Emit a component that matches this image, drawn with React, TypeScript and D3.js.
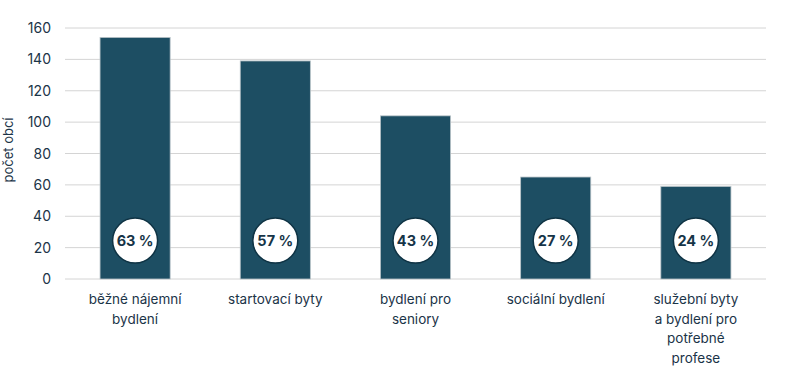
import React from "react";
import * as d3 from "d3";

const categories: string[][] = [
  ["běžné nájemní", "bydlení"],
  ["startovací byty"],
  ["bydlení pro", "seniory"],
  ["sociální bydlení"],
  ["služební byty", "a bydlení pro", "potřebné", "profese"],
];
const values = [154, 139, 104, 65, 59];
const shares = ["63 %", "57 %", "43 %", "27 %", "24 %"];
const yTicks = [0, 20, 40, 60, 80, 100, 120, 140, 160];
const yTitle = "počet obcí";

const W = 789;
const H = 367;
const margin = { left: 65, right: 23, top: 28, bottom: 88 };
const barColor = "#1d4e63";
const textColor = "#1b3448";
const font = "Inter, 'Open Sans', sans-serif";

export default function App() {
  const x = d3
    .scaleBand<number>()
    .domain(values.map((_, i) => i))
    .range([margin.left, W - margin.right])
    .paddingInner(0.5)
    .paddingOuter(0.25);
  const y = d3
    .scaleLinear()
    .domain([0, 160])
    .range([H - margin.bottom, margin.top]);

  return (
    <svg
      width={W}
      height={H}
      style={{ position: "absolute", left: 0, top: 0, background: "#fff" }}
      fontFamily={font}
    >
      {yTicks.map((t) => (
        <g key={t}>
          <line
            x1={margin.left}
            x2={W - margin.right}
            y1={y(t)}
            y2={y(t)}
            stroke="#d4d4d4"
            strokeWidth={1}
          />
          <text
            x={51}
            y={y(t)}
            dy="0.36em"
            textAnchor="end"
            fontSize={14}
            fill={textColor}
          >
            {t}
          </text>
        </g>
      ))}
      <text
        transform={`translate(13,150) rotate(-90)`}
        textAnchor="middle"
        fontSize={13}
        fill={textColor}
      >
        {yTitle}
      </text>
      {values.map((v, i) => {
        const bx = x(i)!;
        const bw = x.bandwidth();
        const cx = bx + bw / 2;
        return (
          <g key={i}>
            <rect
              x={bx}
              y={y(v)}
              width={bw}
              height={y(0) - y(v)}
              fill={barColor}
              stroke="#b9c3c8"
              strokeWidth={0.8}
            />
            <circle
              cx={cx}
              cy={y(24.5)}
              r={22.5}
              fill="#fff"
              stroke="#0f3344"
              strokeWidth={1.5}
            />
            <text
              x={cx}
              y={y(24.5)}
              dy="0.36em"
              textAnchor="middle"
              fontSize={14.5}
              fontWeight={700}
              fill="#163447"
            >
              {shares[i]}
            </text>
            {categories[i].map((line, j) => (
              <text
                key={j}
                x={cx}
                y={y(0) + 25 + j * 19.5}
                textAnchor="middle"
                fontSize={13.5}
                fill={textColor}
              >
                {line}
              </text>
            ))}
          </g>
        );
      })}
    </svg>
  );
}
